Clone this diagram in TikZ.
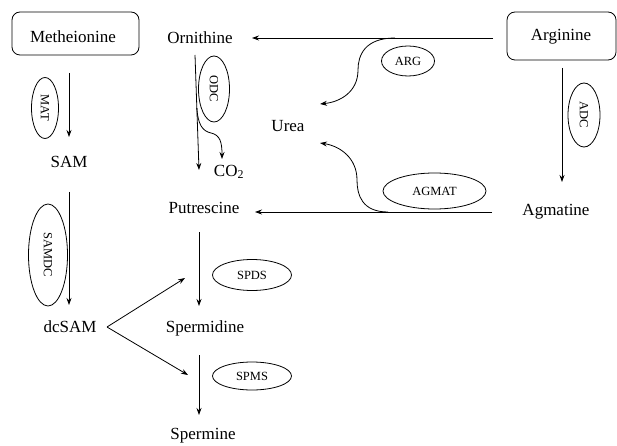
\documentclass[tikz,border=0pt]{standalone}
\usepackage{fontspec}
\setmainfont{Liberation Serif}
\usetikzlibrary{arrows.meta,shapes.geometric}
\begin{document}
\begin{tikzpicture}[x=1pt,y=-1pt,
 lbl/.style={font=\fontsize{17}{20}\selectfont, inner sep=0pt},
 box/.style={draw, rounded corners=8pt, line width=0.8pt, inner sep=0pt},
 enz/.style={draw, ellipse, line width=0.8pt, inner sep=0pt, font=\fontsize{12.5}{14}\selectfont},
 arr/.style={line width=0.8pt, -{Stealth[length=7pt,width=5pt]}},
 ln/.style={line width=0.8pt}]
\useasboundingbox (0,0) rectangle (617,446);
% boxes
\node[box, minimum width=127pt, minimum height=43pt] (metbox) at (75.5,33.5) {};
\node[lbl] (met) at (73,37) {Metheionine};
\node[box, minimum width=109pt, minimum height=48pt] (argbox) at (561.5,36) {};
\node[lbl] (arg) at (561,37) {Arginine};
% labels
\node[lbl] (orn) at (200,38) {Ornithine};
\node[lbl] (urea) at (288,126) {Urea};
\node[lbl] (co2) at (229,172) {CO\textsubscript{2}};
\node[lbl] (put) at (204,208) {Putrescine};
\node[lbl] (agm) at (556,212) {Agmatine};
\node[lbl] (sam) at (69,162) {SAM};
\node[lbl] (dcsam) at (70,327) {dcSAM};
\node[lbl] (spd) at (205,328) {Spermidine};
\node[lbl] (spm) at (203,436) {Spermine};
% enzymes
\node[enz, minimum width=53pt, minimum height=30pt] (ARG) at (408,61) {ARG};
\node[enz, minimum width=103pt, minimum height=36pt] (AGMAT) at (434.5,191) {AGMAT};
\node[enz, rotate=-90, minimum width=64pt, minimum height=32pt] (ADC) at (584,115) {ADC};
\node[enz, rotate=-90, minimum width=61pt, minimum height=27pt] (MAT) at (45,108) {MAT};
\node[enz, rotate=-90, minimum width=102pt, minimum height=39pt] (SAMDC) at (48,255) {SAMDC};
\node[enz, rotate=-90, minimum width=66pt, minimum height=31pt] (ODC) at (214,89) {ODC};
\node[enz, minimum width=79pt, minimum height=31pt] (SPDS) at (252,275) {SPDS};
\node[enz, minimum width=79pt, minimum height=28pt] (SPMS) at (252,376) {SPMS};
% coordinates
\coordinate (a1) at (493,38);
\coordinate (a2) at (252,38);
\coordinate (b1) at (492,212);
\coordinate (b2) at (255,212);
\coordinate (c1) at (562,68);
\coordinate (c2) at (562,182);
\coordinate (m1) at (69,73);
\coordinate (m2) at (69,137);
\coordinate (s1) at (69,192);
\coordinate (s2) at (69,305);
\coordinate (o1) at (195,55);
\coordinate (o2) at (199,170);
\coordinate (ob) at (196.8,108);
\coordinate (oe) at (222,159);
\coordinate (p1) at (199,232);
\coordinate (p2) at (199,306);
\coordinate (q1) at (199,355);
\coordinate (q2) at (199,415);
\coordinate (d0) at (107,327);
\coordinate (d1) at (185,278);
\coordinate (d2) at (188,375);
\coordinate (u1) at (395,38);
\coordinate (u2) at (320,104);
\coordinate (g1) at (388,212);
\coordinate (g2) at (320,143);
% arrows
\draw[arr] (a1) -- (a2);
\draw[arr] (b1) -- (b2);
\draw[arr] (c1) -- (c2);
\draw[arr] (m1) -- (m2);
\draw[arr] (s1) -- (s2);
\draw[arr] (o1) -- (o2);
\draw[arr] (ob) .. controls (198,124) and (202,131) .. (211,133) .. controls (220,135) and (222,142) .. (oe);
\draw[arr] (p1) -- (p2);
\draw[arr] (q1) -- (q2);
\draw[arr] (d0) -- (d1);
\draw[arr] (d0) -- (d2);
\draw[arr] (u1) .. controls (365,38) and (358,55) .. (358,70) .. controls (358,92) and (340,102) .. (u2);
\draw[arr] (g1) .. controls (362,212) and (357,195) .. (357,180) .. controls (357,158) and (340,146) .. (g2);
\end{tikzpicture}
\end{document}
